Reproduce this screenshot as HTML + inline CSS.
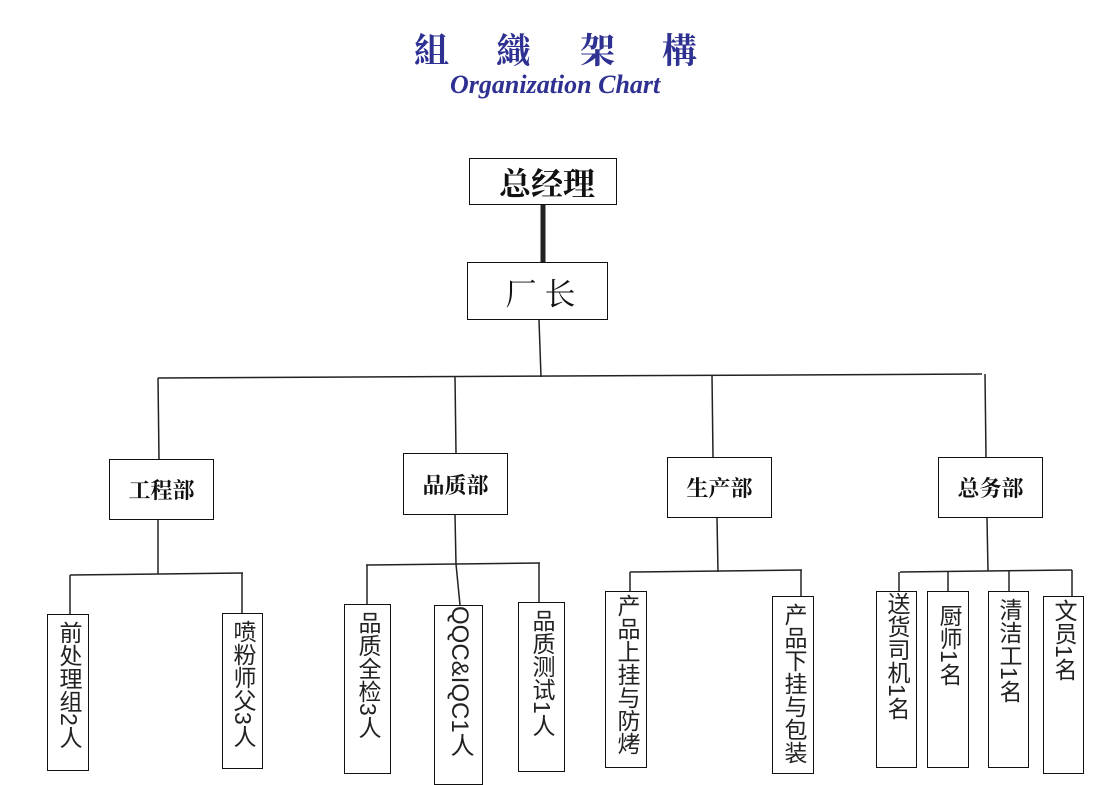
<!DOCTYPE html>
<html><head><meta charset="utf-8"><style>
body{margin:0;width:1094px;height:777px;background:#fff;position:relative;overflow:hidden;font-family:"Liberation Sans","Noto Sans CJK SC",sans-serif}
.b{position:absolute;border:1.5px solid #111;box-sizing:border-box;background:#fff}
.h{display:flex;align-items:center;justify-content:center;font-family:"Liberation Serif","Noto Serif CJK SC",serif;color:#111}
.v{writing-mode:vertical-rl;font-size:23px;color:#222;padding-top:6px;display:block;text-align:start}
.t{position:absolute;font-family:"Liberation Serif","Noto Serif CJK SC",serif;color:#2e3192;font-weight:bold}
</style></head><body>
<div class="t" style="left:414px;top:24px;font-size:35px;">組</div>
<div class="t" style="left:496px;top:24px;font-size:35px;">織</div>
<div class="t" style="left:580px;top:24px;font-size:35px;">架</div>
<div class="t" style="left:662px;top:24px;font-size:35px;">構</div>
<div class="t" style="left:450px;top:70px;font-size:26px;font-style:italic;">Organization Chart</div>

<svg style="position:absolute;left:0;top:0" width="1094" height="777">
<g stroke="#222" stroke-width="1.5" fill="none">
<line x1="543" y1="205" x2="543" y2="262" stroke-width="5"/>
<line x1="539" y1="320" x2="541" y2="377"/>
<line x1="158" y1="378" x2="982" y2="374"/>
<line x1="158" y1="378" x2="159" y2="459"/>
<line x1="455" y1="377" x2="456" y2="453"/>
<line x1="712" y1="375" x2="713" y2="457"/>
<line x1="985" y1="374" x2="986" y2="457"/>
<line x1="158" y1="520" x2="158" y2="574"/>
<line x1="70" y1="575" x2="243" y2="573"/>
<line x1="70" y1="575" x2="70" y2="614"/>
<line x1="242" y1="573" x2="242" y2="613"/>
<line x1="455" y1="515" x2="456" y2="564"/>
<line x1="366" y1="565" x2="540" y2="563"/>
<line x1="367" y1="565" x2="367" y2="604"/>
<line x1="539" y1="563" x2="539" y2="602"/>
<line x1="456" y1="564" x2="460" y2="605"/>
<line x1="717" y1="518" x2="718" y2="572"/>
<line x1="630" y1="572" x2="802" y2="570"/>
<line x1="630" y1="572" x2="630" y2="591"/>
<line x1="801" y1="570" x2="801" y2="596"/>
<line x1="987" y1="518" x2="988" y2="571"/>
<line x1="900" y1="572" x2="1072" y2="570"/>
<line x1="899" y1="572" x2="899" y2="591"/>
<line x1="948" y1="571" x2="948" y2="591"/>
<line x1="1009" y1="571" x2="1009" y2="591"/>
<line x1="1072" y1="570" x2="1072" y2="596"/>
</g></svg>

<div class="b h" style="left:469px;top:158px;width:148px;height:47px;font-size:32px;font-weight:bold;padding-left:8px;">总经理</div>
<div class="b h" style="left:467px;top:262px;width:141px;height:58px;font-size:31px;letter-spacing:8px;padding-left:14px;">厂长</div>
<div class="b h" style="left:109px;top:459px;width:105px;height:61px;font-size:22px;font-weight:bold;">工程部</div>
<div class="b h" style="left:403px;top:453px;width:105px;height:62px;font-size:22px;font-weight:bold;">品质部</div>
<div class="b h" style="left:667px;top:457px;width:105px;height:61px;font-size:22px;font-weight:bold;">生产部</div>
<div class="b h" style="left:938px;top:457px;width:105px;height:61px;font-size:22px;font-weight:bold;">总务部</div>

<div class="b v" style="left:47px;top:614px;width:42px;height:157px;line-height:39px;">前处理组2人</div>
<div class="b v" style="left:222px;top:613px;width:41px;height:156px;line-height:38px;">喷粉师父3人</div>
<div class="b v" style="left:344px;top:604px;width:47px;height:170px;line-height:44px;">品质全检3人</div>
<div class="b v" style="left:434px;top:605px;width:49px;height:180px;line-height:46px;padding-top:0;font-size:24px;">QQC&amp;IQC1人</div>
<div class="b v" style="left:518px;top:602px;width:47px;height:170px;line-height:44px;">品质测试1人</div>
<div class="b v" style="left:605px;top:591px;width:42px;height:177px;line-height:39px;padding-top:2px;">产品上挂与防烤</div>
<div class="b v" style="left:772px;top:596px;width:42px;height:178px;line-height:39px;">产品下挂与包装</div>
<div class="b v" style="left:876px;top:591px;width:41px;height:177px;line-height:38px;padding-top:0;">送货司机1名</div>
<div class="b v" style="left:927px;top:591px;width:42px;height:177px;line-height:39px;padding-top:12px;">厨师1名</div>
<div class="b v" style="left:988px;top:591px;width:41px;height:177px;line-height:38px;padding-top:6px;">清洁工1名</div>
<div class="b v" style="left:1043px;top:596px;width:41px;height:178px;line-height:38px;padding-top:2px;">文员1名</div>
</body></html>
